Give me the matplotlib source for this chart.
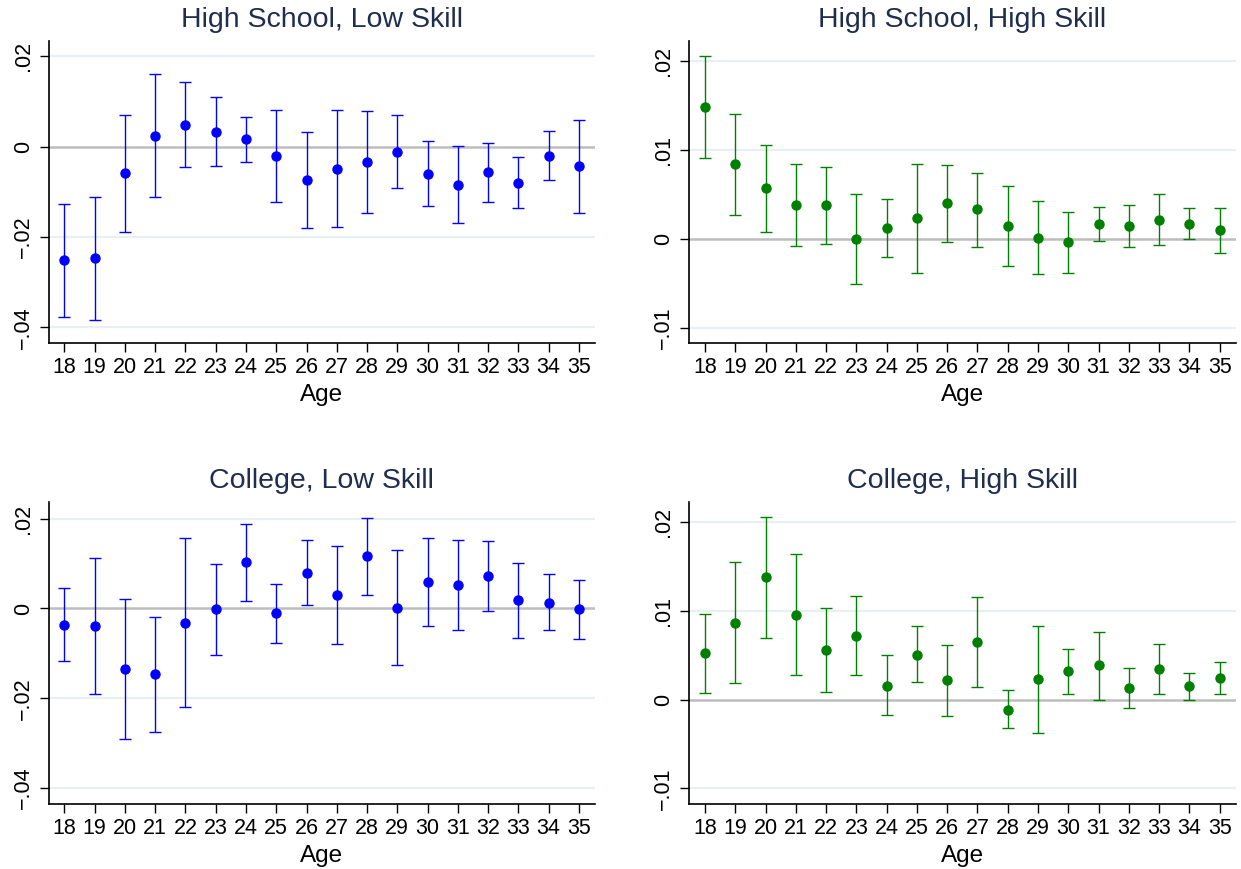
import matplotlib.pyplot as plt

plt.rcParams["font.family"] = ["Liberation Sans", "DejaVu Sans"]

AGES = list(range(18, 36))

# High School, Low Skill
hs_low_est = [-0.0252, -0.0247, -0.0059, 0.0024, 0.0048, 0.0033, 0.0016, -0.0021, -0.0075,
              -0.0049, -0.0035, -0.0012, -0.0060, -0.0084, -0.0057, -0.0080, -0.0020, -0.0044]
hs_low_lo = [-0.0378, -0.0383, -0.0188, -0.0111, -0.0046, -0.0044, -0.0034, -0.0123, -0.0180,
             -0.0177, -0.0147, -0.0092, -0.0132, -0.0169, -0.0123, -0.0135, -0.0073, -0.0148]
hs_low_hi = [-0.0126, -0.0111, 0.0069, 0.0161, 0.0142, 0.0109, 0.0066, 0.0080, 0.0032,
             0.0080, 0.0078, 0.0069, 0.0013, 0.0001, 0.0009, -0.0024, 0.0034, 0.0058]

# High School, High Skill
hs_high_est = [0.0148, 0.0084, 0.0057, 0.0038, 0.0038, 0.0000, 0.0012, 0.0023, 0.0040,
               0.0033, 0.0014, 0.0001, -0.0004, 0.0017, 0.0014, 0.0021, 0.0017, 0.0010]
hs_high_lo = [0.0091, 0.0027, 0.0008, -0.0008, -0.0006, -0.0051, -0.0020, -0.0038, -0.0003,
              -0.0009, -0.0031, -0.0039, -0.0038, -0.0002, -0.0009, -0.0007, 0.0000, -0.0016]
hs_high_hi = [0.0206, 0.0140, 0.0105, 0.0084, 0.0081, 0.0050, 0.0045, 0.0084, 0.0083,
              0.0074, 0.0059, 0.0042, 0.0030, 0.0036, 0.0038, 0.0050, 0.0035, 0.0035]

# College, Low Skill
col_low_est = [-0.0036, -0.0039, -0.0134, -0.0147, -0.0032, -0.0002, 0.0104, -0.0011, 0.0079,
               0.0030, 0.0118, 0.0002, 0.0059, 0.0053, 0.0073, 0.0018, 0.0013, -0.0002]
col_low_lo = [-0.0117, -0.0191, -0.0290, -0.0275, -0.0220, -0.0103, 0.0017, -0.0077, 0.0007,
              -0.0079, 0.0031, -0.0125, -0.0039, -0.0049, -0.0005, -0.0066, -0.0048, -0.0067]
col_low_hi = [0.0045, 0.0113, 0.0022, -0.0019, 0.0157, 0.0099, 0.0189, 0.0055, 0.0153,
              0.0140, 0.0202, 0.0130, 0.0157, 0.0153, 0.0150, 0.0102, 0.0076, 0.0064]

# College, High Skill
col_high_est = [0.0053, 0.0087, 0.0138, 0.0096, 0.0056, 0.0072, 0.0016, 0.0051, 0.0022,
                0.0065, -0.0011, 0.0023, 0.0032, 0.0039, 0.0013, 0.0035, 0.0016, 0.0025]
col_high_lo = [0.0008, 0.0019, 0.0070, 0.0028, 0.0009, 0.0028, -0.0017, 0.0020, -0.0018,
               0.0014, -0.0032, -0.0037, 0.0007, 0.0000, -0.0009, 0.0007, 0.0000, 0.0006]
col_high_hi = [0.0097, 0.0155, 0.0206, 0.0164, 0.0104, 0.0117, 0.0050, 0.0083, 0.0062,
               0.0116, 0.0011, 0.0083, 0.0057, 0.0077, 0.0036, 0.0063, 0.0030, 0.0043]

WIDE_TICKS = [0.02, 0.0, -0.02, -0.04]
WIDE_LABELS = [".02", "0", "\u2212.02", "\u2212.04"]
NARROW_TICKS = [0.02, 0.01, 0.0, -0.01]
NARROW_LABELS = [".02", ".01", "0", "\u2212.01"]

BLUE = "#0000ff"
GREEN = "#008000"
TITLE_COLOR = "#1f2d4e"

panels = [
    ("High School, Low Skill", hs_low_est, hs_low_lo, hs_low_hi, BLUE,
     WIDE_TICKS, WIDE_LABELS, (-0.04348, 0.02337), [0.0392, 0.6053, 0.4402, 0.3475]),
    ("High School, High Skill", hs_high_est, hs_high_lo, hs_high_hi, GREEN,
     NARROW_TICKS, NARROW_LABELS, (-0.01171, 0.02224), [0.5554, 0.6053, 0.4403, 0.3475]),
    ("College, Low Skill", col_low_est, col_low_lo, col_low_hi, BLUE,
     WIDE_TICKS, WIDE_LABELS, (-0.04359, 0.02374), [0.0392, 0.0748, 0.4402, 0.3475]),
    ("College, High Skill", col_high_est, col_high_lo, col_high_hi, GREEN,
     NARROW_TICKS, NARROW_LABELS, (-0.01175, 0.0223), [0.5554, 0.0748, 0.4403, 0.3475]),
]


def main():
    fig = plt.figure(figsize=(12.41, 8.69), dpi=100)
    for title, est, lo, hi, color, ticks, labels, ylim, pos in panels:
        ax = fig.add_axes(pos)
        for t in ticks:
            if t != 0:
                ax.axhline(t, color="#e9f0f3", lw=1.6, zorder=0)
        ax.axhline(0, color="#bdbdbd", lw=1.8, zorder=1)
        err = [[e - l for e, l in zip(est, lo)], [h - e for e, h in zip(est, hi)]]
        ax.errorbar(AGES, est, yerr=err, fmt="o", color=color, ms=6.5,
                    elinewidth=1.0, capsize=4.3, capthick=1.0, zorder=3)
        ax.set_xlim(17.48, 35.53)
        ax.set_ylim(*ylim)
        ax.set_xticks(AGES)
        ax.set_yticks(ticks)
        ax.set_yticklabels(labels, rotation=90, va="center")
        ax.tick_params(axis="both", labelsize=15.5, length=6.7, width=1.0, color="black")
        ax.tick_params(axis="x", pad=3.5)
        ax.tick_params(axis="y", pad=4)
        for side in ("top", "right"):
            ax.spines[side].set_visible(False)
        for side in ("left", "bottom"):
            ax.spines[side].set_linewidth(1.2)
        ax.set_xlabel("Age", fontsize=17.5, labelpad=4.5)
        ax.set_title(title, fontsize=20.5, color=TITLE_COLOR, pad=10)
    fig.savefig("out.png", dpi=100)


if __name__ == "__main__":
    main()
